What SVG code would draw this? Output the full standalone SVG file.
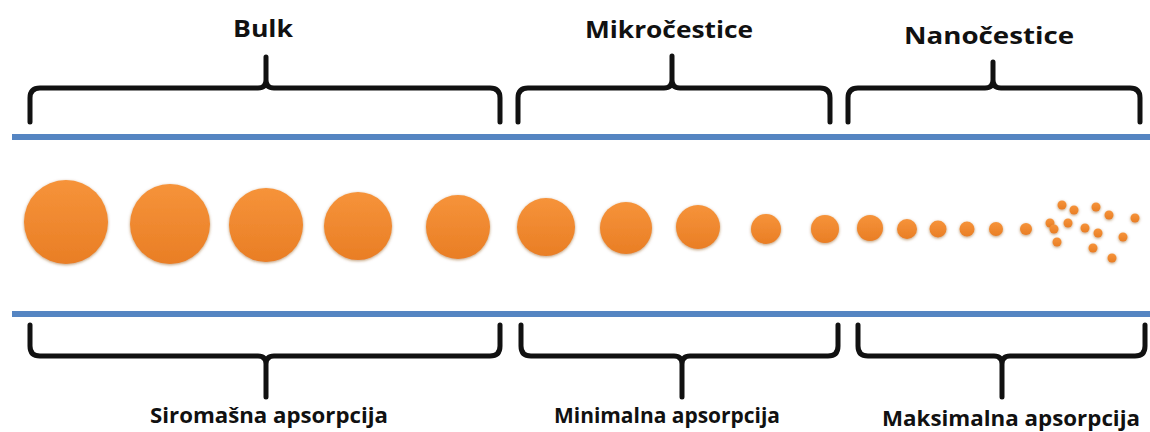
<svg xmlns="http://www.w3.org/2000/svg" width="1150" height="432" viewBox="0 0 1150 432">
<defs>
<style>
.t{font-family:"Open Sans","Liberation Sans",sans-serif;font-weight:700;fill:#111;text-anchor:middle}
.tt{font-size:24px}
.bt{font-size:21px}
.br{fill:none;stroke:#111;stroke-width:5;stroke-linecap:round;stroke-linejoin:round}
.bl{stroke:#5585C2;stroke-width:6}
.p{fill:url(#og);filter:url(#sh)}
</style>
<linearGradient id="og" x1="0" y1="0" x2="0" y2="1">
<stop offset="0" stop-color="#F6933A"/>
<stop offset="1" stop-color="#E97E25"/>
</linearGradient>
<filter id="sh" x="-40%" y="-40%" width="180%" height="180%">
<feGaussianBlur in="SourceAlpha" stdDeviation="1.8"/>
<feOffset dy="1.2" result="b"/>
<feFlood flood-color="#8A4A12" flood-opacity="0.55"/>
<feComposite in2="b" operator="in" result="s"/>
<feMerge><feMergeNode in="s"/><feMergeNode in="SourceGraphic"/></feMerge>
</filter>
</defs>
<rect width="1150" height="432" fill="#fff"/>

<g id="lines">
<line class="bl" x1="12" y1="137" x2="1150" y2="137"/>
<line class="bl" x1="12" y1="314" x2="1150" y2="314"/>
</g>

<g id="connectors">
<path id="brace-bulk-top" class="br" d="M30,122 L30,98 Q30,88 40,88 L258,88 Q266,88 266,80 L266,57 M266,80 Q266,88 274,88 L490,88 Q500,88 500,98 L500,122"/>
<path id="brace-mikro-top" class="br" d="M518,122 L518,98 Q518,88 528,88 L664,88 Q672,88 672,80 L672,56 M672,80 Q672,88 680,88 L820,88 Q830,88 830,98 L830,122"/>
<path id="brace-nano-top" class="br" d="M848,122 L848,98 Q848,88 858,88 L985,88 Q993,88 993,80 L993,62 M993,80 Q993,88 1001,88 L1130,88 Q1140,88 1140,98 L1140,122"/>
<path id="brace-bulk-bot" class="br" d="M30,325 L30,346 Q30,356 40,356 L258,356 Q266,356 266,364 L266,397 M266,364 Q266,356 274,356 L490,356 Q500,356 500,346 L500,325"/>
<path id="brace-mikro-bot" class="br" d="M521,325 L521,346 Q521,356 531,356 L674,356 Q682,356 682,364 L682,397 M682,364 Q682,356 690,356 L828,356 Q838,356 838,346 L838,325"/>
<path id="brace-nano-bot" class="br" d="M858,325 L858,346 Q858,356 868,356 L994,356 Q1002,356 1002,364 L1002,397 M1002,364 Q1002,356 1010,356 L1135,356 Q1145,356 1145,346 L1145,325"/>
</g>

<g id="label-bulk"><text class="t tt" x="263" y="37" textLength="60" lengthAdjust="spacingAndGlyphs">Bulk</text></g>
<g id="label-mikro"><text class="t tt" x="669" y="38" textLength="168" lengthAdjust="spacingAndGlyphs">Mikročestice</text></g>
<g id="label-nano"><text class="t tt" x="989" y="44" textLength="170" lengthAdjust="spacingAndGlyphs">Nanočestice</text></g>
<g id="label-siromasna"><text class="t bt" x="269" y="423" textLength="238" lengthAdjust="spacingAndGlyphs">Siromašna apsorpcija</text></g>
<g id="label-minimalna"><text class="t bt" x="667" y="423" textLength="226" lengthAdjust="spacingAndGlyphs">Minimalna apsorpcija</text></g>
<g id="label-maksimalna"><text class="t bt" x="1011" y="426" textLength="258" lengthAdjust="spacingAndGlyphs">Maksimalna apsorpcija</text></g>

<g id="particles">
<circle class="p" cx="66" cy="222" r="42"/>
<circle class="p" cx="170" cy="224" r="40"/>
<circle class="p" cx="266" cy="225" r="37"/>
<circle class="p" cx="358" cy="226" r="34"/>
<circle class="p" cx="458" cy="227" r="32"/>
<circle class="p" cx="546" cy="227" r="29"/>
<circle class="p" cx="626" cy="228" r="26"/>
<circle class="p" cx="698" cy="227" r="22"/>
<circle class="p" cx="766" cy="229" r="15"/>
<circle class="p" cx="825" cy="229" r="14"/>
<circle class="p" cx="870" cy="228" r="13"/>
<circle class="p" cx="907" cy="229" r="10"/>
<circle class="p" cx="938" cy="229" r="8.5"/>
<circle class="p" cx="967" cy="229" r="7.5"/>
<circle class="p" cx="996" cy="229" r="7"/>
<circle class="p" cx="1026" cy="229" r="6"/>
<circle class="p" cx="1062" cy="205" r="4.5"/>
<circle class="p" cx="1074" cy="210" r="4.5"/>
<circle class="p" cx="1096" cy="207" r="4.5"/>
<circle class="p" cx="1109" cy="215" r="4.5"/>
<circle class="p" cx="1135" cy="218" r="4.5"/>
<circle class="p" cx="1050" cy="223" r="4.5"/>
<circle class="p" cx="1054" cy="229" r="4.5"/>
<circle class="p" cx="1068" cy="223" r="4.5"/>
<circle class="p" cx="1085" cy="228" r="4.5"/>
<circle class="p" cx="1098" cy="233" r="4.5"/>
<circle class="p" cx="1123" cy="237" r="4.5"/>
<circle class="p" cx="1057" cy="242" r="4.5"/>
<circle class="p" cx="1093" cy="248" r="4.5"/>
<circle class="p" cx="1112" cy="258" r="4.5"/>
</g>
</svg>
